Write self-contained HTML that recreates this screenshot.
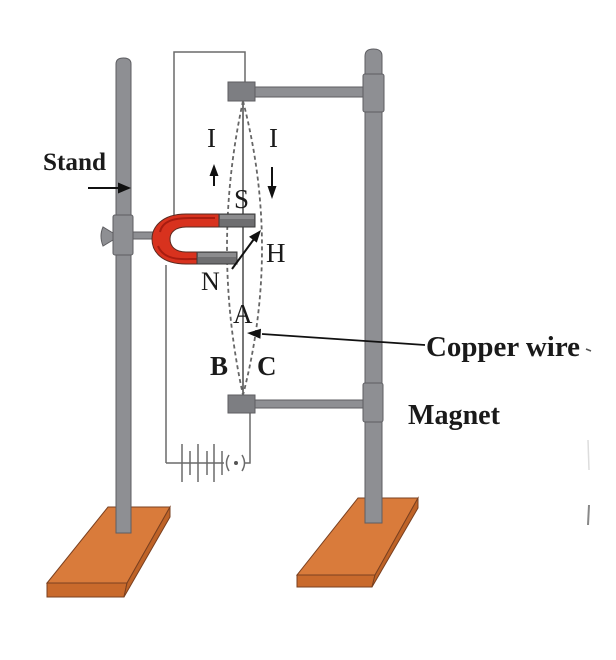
<!DOCTYPE html>
<html><head><meta charset="utf-8"><style>
html,body{margin:0;padding:0;background:#fff;}
svg{display:block;}
text{font-family:"Liberation Serif",serif;fill:#1a1a1a;}
</style></head><body>
<svg width="616" height="660" viewBox="0 0 616 660" xmlns="http://www.w3.org/2000/svg">
<rect width="616" height="660" fill="#fff"/>

<!-- bases -->
<g stroke="#7a4020" stroke-width="1">
  <polygon points="108,507 170,507 127,583 47,583" fill="#d97b3b"/>
  <polygon points="47,583 127,583 124,597 47,597" fill="#c96a2c"/>
  <polygon points="170,507 170,517 124,597 127,583" fill="#bf6327"/>
  <polygon points="358,498 418,498 375,575 297,575" fill="#d97b3b"/>
  <polygon points="297,575 375,575 372,587 297,587" fill="#c96a2c"/>
  <polygon points="418,498 418,508 372,587 375,575" fill="#bf6327"/>
</g>

<!-- wire frame -->
<g stroke="#6a6a6a" stroke-width="1.5" fill="none">
  <polyline points="174,225 174,52 245,52 245,82"/>
  <line x1="166" y1="265" x2="166" y2="463"/>
  <line x1="166" y1="463" x2="224" y2="463"/>
  <line x1="182" y1="444" x2="182" y2="482"/>
  <line x1="190" y1="451" x2="190" y2="475"/>
  <line x1="198" y1="444" x2="198" y2="482"/>
  <line x1="207" y1="451" x2="207" y2="475"/>
  <line x1="214" y1="444" x2="214" y2="482"/>
  <line x1="222" y1="451" x2="222" y2="475"/>
  <path d="M229,455 Q224,463 229,471"/>
  <path d="M242,455 Q247,463 242,471"/>
  <polyline points="245,463 250,463 250,412"/>
</g>
<circle cx="236" cy="463" r="2" fill="#555"/>

<!-- poles -->
<g stroke="#5e5e62" stroke-width="1" fill="#8e8f93">
  <path d="M116,533 L116,64 Q116,58 123.5,58 Q131,58 131,64 L131,533 Z"/>
  <path d="M365,523 L365,56 Q365,49 373.5,49 Q382,49 382,56 L382,523 Z"/>
  <rect x="254" y="87" width="110" height="10"/>
  <rect x="254" y="400" width="110" height="8"/>
  <rect x="363" y="74" width="21" height="38" rx="2"/>
  <rect x="363" y="383" width="20" height="39" rx="2"/>
  <rect x="113" y="215" width="20" height="40" rx="2"/>
  <rect x="133" y="232" width="24" height="7"/>
  <path d="M113,233 L103,227 Q99,236 103,246 L113,240 Z"/>
  <rect x="228" y="82" width="27" height="19" fill="#7d7e82"/>
  <rect x="228" y="395" width="27" height="18" fill="#7d7e82"/>
</g>

<!-- wire + dashed swings -->
<line x1="243" y1="101" x2="243" y2="395" stroke="#4a4a4a" stroke-width="1.5"/>
<g stroke="#666" stroke-width="1.8" fill="none" stroke-dasharray="4,3">
  <path d="M243,101 Q211,248 243,395"/>
  <path d="M243,101 Q281,248 243,395"/>
</g>

<!-- magnet -->
<path d="M255,214 L186,214 C161,214 152,228 152,239 C152,252 162,264 186,264 L237,264 L237,252 L186,252 C176,252 170,247 170,239 C170,232 176,227 186,227 L255,227 Z" fill="#d8321e" stroke="#5a2a20" stroke-width="1"/>
<path d="M160,232 C162,222 172,218 190,218 L215,218" stroke="#a81c10" stroke-width="2" fill="none"/>
<path d="M158,246 C162,256 172,260 190,259 L197,259" stroke="#a81c10" stroke-width="2" fill="none"/>
<g stroke="#3a3a3a" stroke-width="1">
  <rect x="219" y="214" width="36" height="13" fill="#6e6e70"/>
  <rect x="197" y="252" width="40" height="12" fill="#6e6e70"/>
</g>
<rect x="220" y="215" width="34" height="4" fill="#8c8c8e"/>
<rect x="198" y="253" width="38" height="4" fill="#8c8c8e"/>

<!-- arrows -->
<g stroke="#111" stroke-width="2" fill="#111">
  <line x1="88" y1="188" x2="120" y2="188"/>
  <polygon points="131,188 118,182.5 118,193.5" stroke="none"/>
  <line x1="214" y1="186" x2="214" y2="174"/>
  <polygon points="214,164 209.5,176 218.5,176" stroke="none"/>
  <line x1="272" y1="167" x2="272" y2="188"/>
  <polygon points="272,199 267.5,186 276.5,186" stroke="none"/>
  <line x1="232" y1="269" x2="254" y2="239"/>
  <polygon points="261,230 256.8,242.6 249,236.8" stroke="none"/>
  <line x1="262" y1="334" x2="425" y2="345" stroke-width="1.8"/>
  <polygon points="247,333 261,328.8 260.4,338.8" stroke="none"/>
</g>

<!-- labels -->
<text x="43" y="170" font-size="25" font-weight="bold" textLength="63" lengthAdjust="spacingAndGlyphs">Stand</text>
<text x="207" y="147" font-size="27">I</text>
<text x="269" y="147" font-size="27">I</text>
<text x="234" y="208" font-size="27">S</text>
<text x="266" y="262" font-size="27">H</text>
<text x="201" y="290" font-size="26">N</text>
<text x="233" y="323" font-size="27">A</text>
<text x="210" y="375" font-size="27" font-weight="bold">B</text>
<text x="257" y="375" font-size="27" font-weight="bold">C</text>
<text x="426" y="356" font-size="28" font-weight="bold" textLength="154" lengthAdjust="spacingAndGlyphs">Copper wire</text>
<text x="408" y="424" font-size="28" font-weight="bold" textLength="92" lengthAdjust="spacingAndGlyphs">Magnet</text>

<!-- faint artifacts at right edge -->
<line x1="586" y1="349" x2="591" y2="351" stroke="#555" stroke-width="1.5"/>
<line x1="588" y1="440" x2="589" y2="470" stroke="#ddd" stroke-width="1.5"/>
<line x1="589" y1="505" x2="588" y2="525" stroke="#888" stroke-width="2"/>
</svg>
</body></html>
